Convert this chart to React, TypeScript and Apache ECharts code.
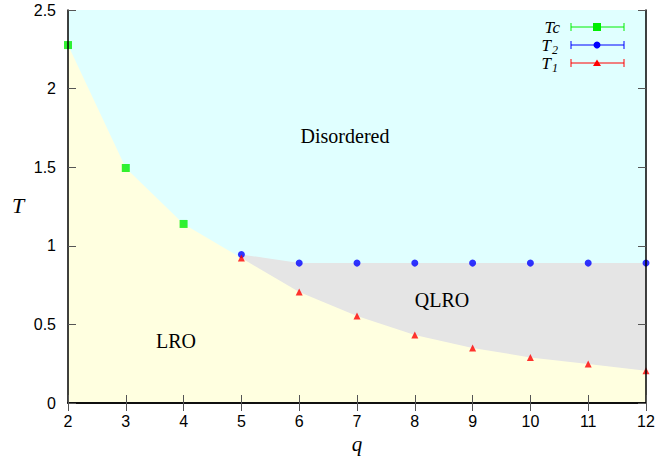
import React, { useEffect, useRef } from "react";
import * as echarts from "echarts";

const tcQ = [2, 3, 4];
const tcT = [2.277, 1.495, 1.139];
const t2Q = [5, 6, 7, 8, 9, 10, 11, 12];
const t2T = [0.945, 0.89, 0.89, 0.89, 0.89, 0.89, 0.89, 0.89];
const t1Q = [5, 6, 7, 8, 9, 10, 11, 12];
const t1T = [0.922, 0.706, 0.553, 0.433, 0.35, 0.29, 0.248, 0.205];
const xTicks = [2, 3, 4, 5, 6, 7, 8, 9, 10, 11, 12];
const yTicks = [0, 0.5, 1, 1.5, 2, 2.5];

const pairs = (q: number[], t: number[]) => q.map((v, i) => [v, t[i]]);

export default function App() {
  const ref = useRef<HTMLDivElement>(null);
  useEffect(() => {
    if (!ref.current) return;
    const chart = echarts.init(ref.current, undefined, { renderer: "svg" });
    const numFont = { fontFamily: "Liberation Sans, Arial, sans-serif", fontSize: 16, color: "#000" };
    const tickStyle = { show: true, inside: true, length: 8, lineStyle: { color: "#555", width: 1 } };
    const axisLine = { show: true, lineStyle: { color: "#000", width: 1.5 } };
    const serif = "Liberation Serif, Times New Roman, serif";
    const legendRow = (main: string, sub: string, y: number, color: string, symbol: any) => {
      const children: any[] = [
        {
          type: "text",
          x: sub ? 551 : 560,
          y,
          style: { text: main, align: "right", verticalAlign: "middle", fontFamily: serif, fontStyle: "italic", fontSize: 17, lineHeight: 14, fill: "#000" },
        },
        { type: "line", shape: { x1: 571, y1: y, x2: 624, y2: y }, style: { stroke: color, lineWidth: 1 } },
        { type: "line", shape: { x1: 571, y1: y - 4, x2: 571, y2: y + 4 }, style: { stroke: color, lineWidth: 1 } },
        { type: "line", shape: { x1: 624, y1: y - 4, x2: 624, y2: y + 4 }, style: { stroke: color, lineWidth: 1 } },
        symbol,
      ];
      if (sub) {
        children.push({
          type: "text",
          x: 552,
          y: y + 5,
          style: { text: sub, align: "left", verticalAlign: "middle", fontFamily: serif, fontStyle: "italic", fontSize: 12, lineHeight: 10, fill: "#000" },
        });
      }
      return { type: "group", children };
    };
    chart.setOption({
      animation: false,
      grid: { left: 68, right: 13, top: 10, bottom: 53, show: true, backgroundColor: "#e0ffff", borderWidth: 0, outerBoundsMode: "none", containLabel: false },
      xAxis: [
        {
          type: "value", min: xTicks[0], max: xTicks[xTicks.length - 1], interval: 1,
          axisLine, axisTick: tickStyle, splitLine: { show: false },
          axisLabel: { ...numFont, margin: 10 },
          name: "q", nameLocation: "middle", nameGap: 26,
          nameTextStyle: { fontFamily: serif, fontStyle: "italic", fontSize: 21, color: "#000" },
          z: 10,
        },
        {
          type: "value", position: "top", min: 2, max: 12, interval: 1,
          axisLine, axisTick: tickStyle, splitLine: { show: false }, axisLabel: { show: false }, z: 10,
        },
      ],
      yAxis: [
        {
          type: "value", min: yTicks[0], max: yTicks[yTicks.length - 1], interval: 0.5,
          axisLine, axisTick: tickStyle, splitLine: { show: false },
          axisLabel: { ...numFont, margin: 12 },
          z: 10,
        },
        {
          type: "value", position: "right", min: 0, max: 2.5, interval: 0.5,
          axisLine, axisTick: tickStyle, splitLine: { show: false }, axisLabel: { show: false }, z: 10,
        },
      ],
      series: [
        {
          type: "line", data: pairs(t2Q, t2T), symbol: "none", lineStyle: { width: 0 },
          areaStyle: { color: "#e5e5e5", opacity: 1, origin: "start" }, z: 1, silent: true,
        },
        {
          type: "line", data: [...pairs(tcQ, tcT), ...pairs(t1Q, t1T)], symbol: "none", lineStyle: { width: 0 },
          areaStyle: { color: "#ffffe0", opacity: 1, origin: "start" }, z: 2, silent: true,
        },
        {
          type: "scatter", data: pairs(tcQ, tcT), symbol: "rect", symbolSize: 8,
          itemStyle: { color: "#00ee00" }, z: 5,
        },
        {
          type: "scatter", data: pairs(t2Q, t2T), symbol: "circle", symbolSize: 7,
          itemStyle: { color: "#0000ff" }, z: 5,
        },
        {
          type: "scatter", data: pairs(t1Q, t1T), symbol: "triangle", symbolSize: 7,
          itemStyle: { color: "#ff0000" }, z: 5,
        },
      ],
      graphic: [
        { type: "text", x: 345, y: 136, style: { text: "Disordered", fontFamily: serif, fontSize: 20, fill: "#000", align: "center", verticalAlign: "middle" }, z: 20 },
        { type: "text", x: 442, y: 300, style: { text: "QLRO", fontFamily: serif, fontSize: 20, fill: "#000", align: "center", verticalAlign: "middle" }, z: 20 },
        { type: "text", x: 176, y: 341, style: { text: "LRO", fontFamily: serif, fontSize: 20, fill: "#000", align: "center", verticalAlign: "middle" }, z: 20 },
        { type: "text", x: 18, y: 205, style: { text: "T", fontFamily: serif, fontStyle: "italic", fontSize: 22, fill: "#000", align: "center", verticalAlign: "middle" }, z: 20 },
        legendRow("Tc", "", 27, "#00ee00", { type: "rect", shape: { x: 593, y: 23, width: 8, height: 8 }, style: { fill: "#00ee00" } }),
        legendRow("T", "2", 45, "#0000ff", { type: "circle", shape: { cx: 597, cy: 45, r: 3.5 }, style: { fill: "#0000ff" } }),
        legendRow("T", "1", 63, "#ff0000", { type: "polygon", shape: { points: [[597, 59.5], [601, 66], [593, 66]] }, style: { fill: "#ff0000" } }),
      ],
    });
    return () => chart.dispose();
  }, []);
  return <div ref={ref} style={{ width: 659, height: 456, position: "absolute", left: 0, top: 0 }} />;
}
